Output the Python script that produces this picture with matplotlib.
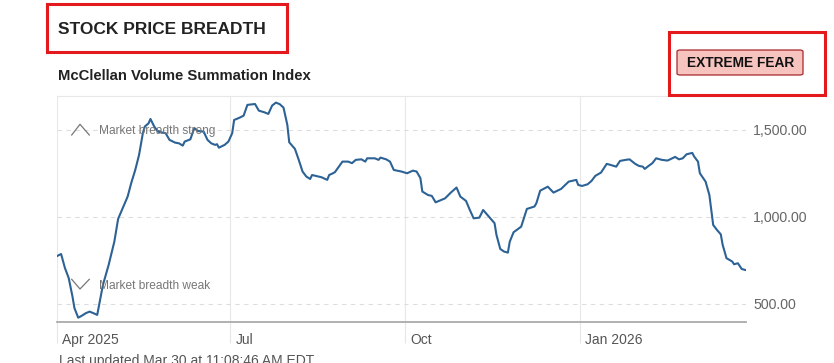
import datetime as dt
import matplotlib
matplotlib.use("Agg")
import matplotlib.pyplot as plt
import matplotlib.dates as mdates
from matplotlib.patches import Rectangle, FancyBboxPatch
from matplotlib.lines import Line2D

plt.rcParams['font.family'] = ['Liberation Sans', 'DejaVu Sans']

# McClellan Volume Summation Index
start = dt.date(2025, 4, 1)
days = [0, 2, 4, 6, 8, 9, 11, 13, 15, 17, 19, 21, 22, 24, 27, 30, 32, 34, 37, 39,
        41, 43, 45, 46, 48, 49, 51, 53, 57, 59, 62, 64, 66, 67, 70, 72, 74, 77, 79, 81,
        83, 84, 85, 88, 90, 92, 93, 96, 98, 100, 104, 106, 109, 111, 113, 115, 117, 119, 121, 122,
        125, 127, 129, 131, 133, 134, 136, 139, 142, 143, 145, 146, 150, 153, 155, 157, 160, 162, 163, 167,
        169, 170, 173, 175, 177, 181, 184, 187, 189, 191, 192, 195, 197, 199, 202, 204, 207, 210, 212, 215,
        217, 219, 222, 224, 227, 230, 231, 233, 235, 237, 238, 240, 244, 247, 251, 252, 254, 258, 261, 265,
        269, 273, 274, 276, 279, 281, 283, 286, 289, 291, 294, 296, 299, 301, 304, 306, 308, 309, 311, 313,
        315, 318, 321, 325, 327, 329, 331, 334, 335, 337, 338, 341, 343, 345, 347, 349, 350, 352, 355, 356,
        358, 360, 362]
values = [776, 787, 707, 649, 542, 477, 421, 433, 447, 456, 447, 437, 494, 609, 724, 858, 989, 1040, 1117, 1199,
          1270, 1356, 1481, 1519, 1538, 1563, 1519, 1490, 1481, 1443, 1427, 1423, 1410, 1433, 1446, 1510, 1494, 1490, 1443, 1423,
          1414, 1418, 1398, 1414, 1433, 1481, 1557, 1571, 1582, 1644, 1649, 1611, 1601, 1592, 1640, 1657, 1648, 1628, 1529, 1429,
          1391, 1328, 1261, 1232, 1218, 1241, 1236, 1228, 1213, 1241, 1251, 1257, 1318, 1318, 1309, 1328, 1331, 1318, 1337, 1337,
          1328, 1341, 1331, 1318, 1270, 1261, 1251, 1266, 1261, 1223, 1146, 1126, 1121, 1084, 1098, 1107, 1140, 1169, 1117, 1092,
          1040, 992, 996, 1040, 1002, 964, 897, 816, 801, 795, 858, 912, 944, 1046, 1060, 1079, 1151, 1174, 1140, 1161,
          1203, 1213, 1184, 1178, 1188, 1207, 1236, 1255, 1305, 1299, 1289, 1322, 1328, 1331, 1305, 1293, 1289, 1276, 1293, 1309,
          1337, 1328, 1324, 1345, 1331, 1337, 1360, 1368, 1347, 1318, 1251, 1203, 1126, 954, 925, 900, 839, 763, 744, 728,
          734, 701, 695]
assert len(days) == len(values)
dates = [start + dt.timedelta(days=d) for d in days]

y_ticks = [500, 1000, 1500]
x_ticks = [dt.date(2025, 4, 1), dt.date(2025, 7, 1), dt.date(2025, 10, 1), dt.date(2026, 1, 1)]
x_labels = ['Apr 2025', 'Jul', 'Oct', 'Jan 2026']

W, H = 834, 363
fig = plt.figure(figsize=(W / 100, H / 100), dpi=100)


def fx(x):
    return x / W


def fy(y):
    return 1 - y / H


ax_left, ax_right, ax_top, ax_bottom = 57.3, 745.5, 96, 321.7
ax = fig.add_axes([fx(ax_left), fy(ax_bottom), (ax_right - ax_left) / W, (ax_bottom - ax_top) / H])

ax.plot(dates, values, color='#2c6295', lw=1.5, solid_joinstyle='round')

ax.set_xlim(start - dt.timedelta(days=0.2), start + dt.timedelta(days=362.8))
ax.set_ylim(398, 1695)

ax.set_yticks(y_ticks)
ax.yaxis.tick_right()
ax.set_yticklabels([f'{v:,.2f}' for v in y_ticks])
ax.tick_params(axis='y', length=0, pad=5.5, labelsize=10.2, labelcolor='#666666')
ax.grid(axis='y', color='#dddddd', lw=0.8, linestyle=(0, (4, 4)))

ax.set_xticks(x_ticks)
ax.set_xticklabels([])
ax.tick_params(axis='x', direction='out', length=15, width=0.8, color='#e6e6e6')
ax.grid(axis='x', color='#e8e8e8', lw=0.8)
for d, lab in zip(x_ticks, x_labels):
    ax.annotate(lab, xy=(mdates.date2num(d), 0), xycoords=('data', 'axes fraction'),
                xytext=(5, -22), textcoords='offset pixels', ha='left', va='baseline',
                fontsize=10, color='#555555')

for side in ['left', 'right']:
    ax.spines[side].set_visible(False)
ax.spines['top'].set_color('#e8e8e8')
ax.spines['top'].set_linewidth(0.8)
ax.spines['bottom'].set_color('#aaaaaa')
ax.spines['bottom'].set_linewidth(1.3)

# chevrons and zone labels
fig.add_artist(Line2D([fx(71.7), fx(80), fx(89.3)], [fy(135), fy(124.3), fy(135)], color='#777777', lw=0.9))
fig.add_artist(Line2D([fx(71.7), fx(80), fx(89.3)], [fy(279.3), fy(289), fy(279.3)], color='#777777', lw=0.9))
fig.text(fx(99), fy(131), 'Market breadth strong', fontsize=8.6, color='#777777', va='center', ha='left')
fig.text(fx(99), fy(286), 'Market breadth weak', fontsize=8.6, color='#777777', va='center', ha='left')

# headings
fig.text(fx(58), fy(30), 'STOCK PRICE BREADTH', fontsize=12.5, fontweight='bold', color='#222222',
         va='center', ha='left')
fig.add_artist(Rectangle((fx(47), fy(51.5)), fx(287) - fx(47), fy(3.5) - fy(51.5),
                         fill=False, edgecolor='#e3191b', lw=2.2))
fig.text(fx(58), fy(76), 'McClellan Volume Summation Index', fontsize=10.7, fontweight='bold',
         color='#222222', va='center', ha='left')

# rating badge
fig.add_artist(FancyBboxPatch((fx(677), fy(75)), fx(803) - fx(677), fy(50) - fy(75),
                              boxstyle='round,pad=0,rounding_size=0.004',
                              facecolor='#f6c3be', edgecolor='#a8282c', lw=0.9))
fig.text(fx(740.5), fy(63), 'EXTREME FEAR', fontsize=9.9, fontweight='bold', color='#111111',
         va='center', ha='center')
fig.add_artist(Rectangle((fx(668.5), fy(95)), fx(825) - fx(668.5), fy(31.5) - fy(95),
                         fill=False, edgecolor='#e3191b', lw=2.2))

fig.text(fx(59), fy(354), 'Last updated Mar 30 at 11:08:46 AM EDT', fontsize=10, color='#555555',
         va='top', ha='left')

fig.savefig('out.png', dpi=100)
